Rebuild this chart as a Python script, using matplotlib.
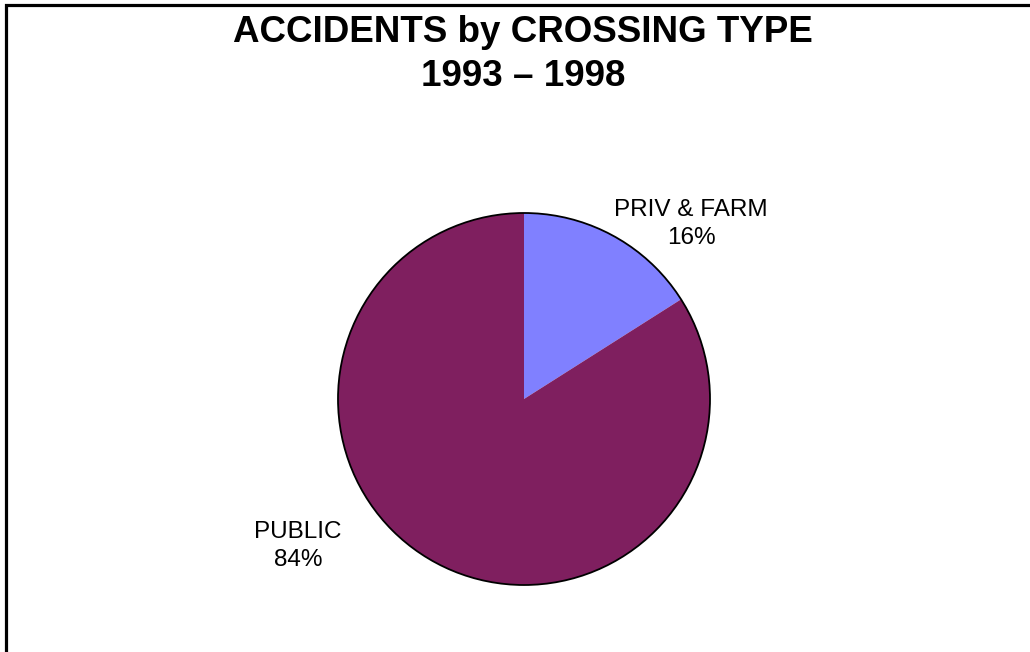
import matplotlib
matplotlib.use("Agg")
import matplotlib.pyplot as plt
from matplotlib.patches import Rectangle, Circle

plt.rcParams['font.family'] = ['Liberation Sans', 'DejaVu Sans']

categories = ["PRIV & FARM", "PUBLIC"]
shares = [16, 84]
colors = ["#8080FF", "#7F1F5F"]
title_lines = ["ACCIDENTS by CROSSING TYPE", "1993 \u2013 1998"]

W, H = 1030, 652
fig = plt.figure(figsize=(W / 100, H / 100), dpi=100)
fig.patch.set_facecolor("white")

# frame around the chart area (open on right and bottom)
fig.add_artist(Rectangle((6 / W, -0.1), 1.2, (H - 5) / H + 0.1,
                         transform=fig.transFigure, fill=False,
                         edgecolor="black", linewidth=2.3))

fig.text(523 / W, 1 - 33 / H, title_lines[0], ha="center", va="center",
         fontsize=26.5, fontweight="bold")
fig.text(523 / W, 1 - 76 / H, title_lines[1], ha="center", va="center",
         fontsize=26.5, fontweight="bold")

cx, cy, r = 524, 399, 186
ax = fig.add_axes([(cx - r) / W, (H - cy - r) / H, 2 * r / W, 2 * r / H])
wedges, _ = ax.pie(shares, colors=colors, startangle=90, counterclock=False,
                   radius=1.0, wedgeprops=dict(linewidth=0))
ax.add_patch(Circle((0, 0), 1.0, fill=False, edgecolor="black",
                    linewidth=1.3, clip_on=False))
ax.set_xlim(-1.0, 1.0)
ax.set_ylim(-1.0, 1.0)
ax.set_aspect("equal")
ax.axis("off")

label_pos = {"PRIV & FARM": (691, 224), "PUBLIC": (298, 546)}
for name, val in zip(categories, shares):
    px, py = label_pos[name]
    fig.text(px / W, 1 - py / H, f"{name}\n{val}%", ha="center", va="center",
             fontsize=17.5, linespacing=1.35)

fig.savefig("out.png", dpi=100)
